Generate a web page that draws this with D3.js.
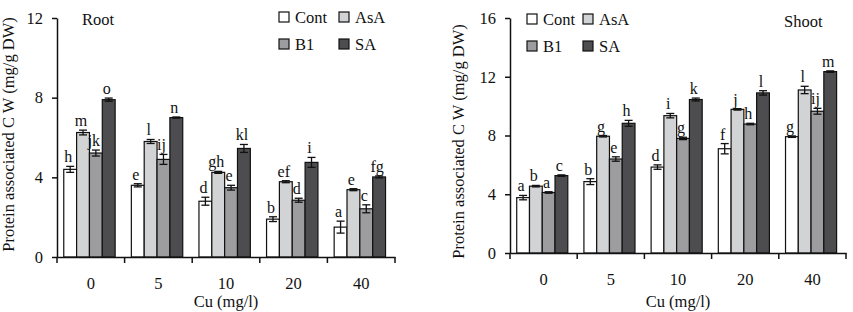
<!DOCTYPE html>
<html>
<head>
<meta charset="utf-8">
<script src="https://cdn.jsdelivr.net/npm/d3@7"></script>
<style>
  body { margin: 0; background: #fff; }
  svg text { font-family: "Liberation Serif", "Times New Roman", serif; fill: #111; }
</style>
</head>
<body>
<div id="chart"></div>
<script>
// Cu concentrations and treatments
let categories = ["0", "5", "10", "20", "40"];
let series = ["Cont", "AsA", "B1", "SA"];
let colors = ["#ffffff", "#d2d3d4", "#9d9d9f", "#4d4d4f"];

// Root values (mg/g DW)
let rootCont = [4.4, 3.6, 2.8, 1.9, 1.5];
let rootAsA  = [6.25, 5.8, 4.25, 3.78, 3.38];
let rootB1   = [5.22, 4.9, 3.48, 2.85, 2.42];
let rootSA   = [7.9, 7.0, 5.45, 4.75, 4.02];
let rootErr  = [[0.15, 0.08, 0.2, 0.12, 0.3], [0.12, 0.1, 0.05, 0.05, 0.05],
                [0.15, 0.25, 0.12, 0.1, 0.2], [0.08, 0.03, 0.2, 0.25, 0.05]];
let rootLetters = [["h", "e", "d", "b", "a"], ["m", "l", "gh", "ef", "e"],
                   ["jk", "ij", "e", "d", "c"], ["o", "n", "kl", "i", "fg"]];
let rootTicks = [0, 4, 8, 12];

// Shoot values (mg/g DW)
let shootCont = [3.77, 4.86, 5.85, 7.1, 7.92];
let shootAsA  = [4.55, 7.95, 9.35, 9.78, 11.1];
let shootB1   = [4.12, 6.4, 7.8, 8.78, 9.65];
let shootSA   = [5.27, 8.83, 10.45, 10.9, 12.35];
let shootErr  = [[0.15, 0.2, 0.15, 0.35, 0.05], [0.05, 0.05, 0.15, 0.05, 0.25],
                 [0.05, 0.15, 0.08, 0.05, 0.2], [0.05, 0.2, 0.1, 0.15, 0.05]];
let shootLetters = [["a", "b", "d", "f", "g"], ["b", "g", "i", "j", "l"],
                    ["a", "e", "g", "h", "ij"], ["c", "h", "k", "l", "m"]];
let shootTicks = [0, 4, 8, 12, 16];

let svg = d3.select("#chart").append("svg")
  .attr("width", 853)
  .attr("height", 312);

function drawPanel(p) {
  let g = svg.append("g");

  let y = d3.scaleLinear().domain([0, p.ticks[p.ticks.length - 1]]).range([p.bottom, p.top]);
  let x0 = d3.scaleBand().domain(categories).range([p.left, p.right]);
  let bw = x0.bandwidth();
  let x1 = d3.scaleBand().domain(series).range([bw * 0.1, bw * 0.86]);

  let rows = [];
  p.values.forEach((vals, si) => {
    vals.forEach((v, ci) => {
      rows.push({s: series[si], si: si, c: categories[ci], v: v,
                 e: p.err[si][ci], lab: p.letters[si][ci]});
    });
  });

  // bars
  g.selectAll("rect.bar").data(rows).enter().append("rect")
    .attr("class", "bar")
    .attr("x", d => x0(d.c) + x1(d.s))
    .attr("width", x1.bandwidth())
    .attr("y", d => y(d.v))
    .attr("height", d => y(0) - y(d.v))
    .style("fill", d => colors[d.si])
    .style("stroke", "#111")
    .style("stroke-width", 1.2);

  // error bars
  let cap = 4;
  let eb = g.selectAll("g.err").data(rows).enter().append("g").attr("class", "err")
    .attr("transform", d => "translate(" + (x0(d.c) + x1(d.s) + x1.bandwidth() / 2) + ",0)");
  eb.append("line").attr("x1", 0).attr("x2", 0)
    .attr("y1", d => y(d.v - d.e)).attr("y2", d => y(d.v + d.e));
  eb.append("line").attr("x1", -cap).attr("x2", cap)
    .attr("y1", d => y(d.v + d.e)).attr("y2", d => y(d.v + d.e));
  eb.append("line").attr("x1", -cap).attr("x2", cap)
    .attr("y1", d => y(d.v - d.e)).attr("y2", d => y(d.v - d.e));
  eb.selectAll("line").style("stroke", "#111").style("stroke-width", 1.3);

  // significance letters
  g.selectAll("text.lab").data(rows).enter().append("text")
    .attr("class", "lab")
    .attr("x", d => x0(d.c) + x1(d.s) + x1.bandwidth() / 2 - 2)
    .attr("y", d => y(d.v + d.e) - 4)
    .attr("text-anchor", "middle")
    .style("font-size", "16px")
    .text(d => d.lab);

  // y axis
  let yAxis = g.append("g")
    .attr("transform", "translate(" + p.left + ",0)")
    .call(d3.axisLeft(y).tickValues(p.ticks).tickSize(5).tickSizeOuter(0).tickPadding(9));
  yAxis.selectAll("text").style("font-size", "16.5px").style("font-family", "Liberation Serif");
  yAxis.selectAll("path, line").style("stroke", "#111").style("stroke-width", 1.5);

  // x axis: labels centred in bands, ticks at band edges
  let xAxis = g.append("g")
    .attr("transform", "translate(0," + y(0) + ")")
    .call(d3.axisBottom(x0).tickSize(0).tickPadding(20));
  xAxis.selectAll("text").style("font-size", "16.5px").style("font-family", "Liberation Serif");
  xAxis.select("path").style("stroke", "#111").style("stroke-width", 1.5);
  let edges = categories.map(c => x0(c)).concat([p.right]);
  xAxis.selectAll("line.edge").data(edges).enter().append("line")
    .attr("class", "edge")
    .attr("x1", d => d).attr("x2", d => d)
    .attr("y1", 0).attr("y2", 6)
    .style("stroke", "#111").style("stroke-width", 1.5);

  // axis titles
  g.append("text")
    .attr("transform", "translate(" + p.titleX + "," + ((p.top + p.bottom) / 2 + p.titleShift) + ") rotate(-90)")
    .attr("text-anchor", "middle")
    .attr("dy", "0.35em")
    .style("font-size", "16.5px")
    .text("Protein associated C W (mg/g DW)");

  g.append("text")
    .attr("x", (p.left + p.right) / 2)
    .attr("y", 307)
    .attr("text-anchor", "middle")
    .style("font-size", "16.5px")
    .text("Cu (mg/l)");

  // panel name
  g.append("text")
    .attr("x", p.nameX).attr("y", p.nameY)
    .style("font-size", "16.5px")
    .text(p.name);

  // legend
  let legend = g.selectAll(".legend").data(series).enter().append("g")
    .attr("class", "legend")
    .attr("transform", (d, i) => "translate(" + (p.legX + (i % 2) * p.legDx) + "," + (p.legY + Math.floor(i / 2) * 27) + ")");
  legend.append("rect")
    .attr("x", 0).attr("y", -5)
    .attr("width", 10).attr("height", 10)
    .style("fill", (d, i) => colors[i])
    .style("stroke", "#111").style("stroke-width", 1.2);
  legend.append("text")
    .attr("x", 16).attr("y", 0).attr("dy", "0.35em")
    .style("font-size", "16.5px")
    .text(d => d);
}

drawPanel({
  values: [rootCont, rootAsA, rootB1, rootSA], err: rootErr, letters: rootLetters, ticks: rootTicks,
  left: 57, right: 395, top: 18, bottom: 257,
  titleX: 8, titleShift: -3, name: "Root", nameX: 82, nameY: 25,
  legX: 279, legDx: 60, legY: 17
});

drawPanel({
  values: [shootCont, shootAsA, shootB1, shootSA], err: shootErr, letters: shootLetters, ticks: shootTicks,
  left: 510, right: 846, top: 18, bottom: 253,
  titleX: 458, titleShift: 6, name: "Shoot", nameX: 784, nameY: 27,
  legX: 527, legDx: 56, legY: 19
});
</script>
</body>
</html>
